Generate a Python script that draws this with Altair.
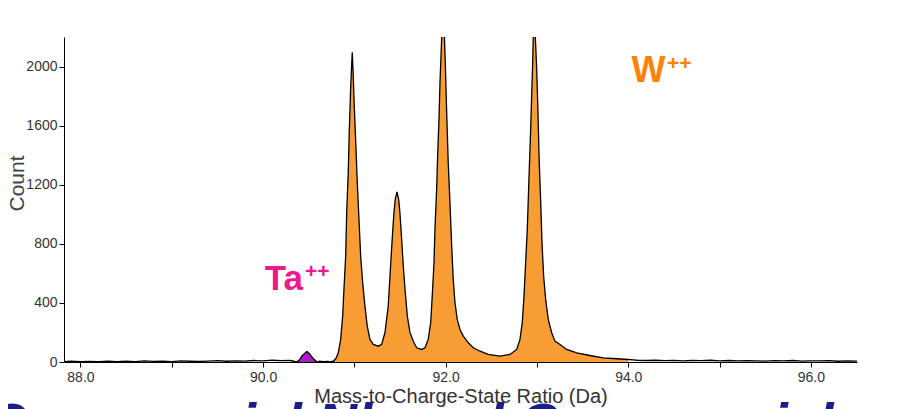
import altair as alt
import pandas as pd

# ---------------- data ----------------
# W++ isotope peaks (orange fill)
w_mz = [90.74, 90.769, 90.80, 90.824, 90.850, 90.872, 90.886, 90.905, 90.916, 90.933,
        90.944, 90.959, 90.970, 90.977, 90.988, 90.999, 91.018, 91.032, 91.054, 91.069,
        91.091, 91.116, 91.141, 91.171, 91.207, 91.262, 91.299, 91.335, 91.371, 91.401,
        91.419, 91.434, 91.448, 91.467, 91.485, 91.499, 91.518, 91.536, 91.558, 91.580,
        91.609, 91.645, 91.682, 91.737, 91.773, 91.809, 91.836, 91.853, 91.872, 91.883,
        91.901, 91.912, 91.927, 91.938, 91.949, 91.960, 91.970, 91.981, 91.996, 92.011,
        92.028, 92.047, 92.066, 92.083, 92.102, 92.127, 92.157, 92.193, 92.248, 92.302,
        92.376, 92.467, 92.594, 92.704, 92.778, 92.814, 92.839, 92.858, 92.876, 92.894,
        92.912, 92.931, 92.942, 92.953, 92.959, 92.973, 92.986, 92.997, 93.011, 93.025,
        93.041, 93.055, 93.073, 93.095, 93.124, 93.161, 93.197, 93.252, 93.325, 93.435,
        93.580, 93.726, 93.873, 94.000]
w_count = [3, 5, 25, 62, 153, 311, 492, 717, 1011, 1283,
           1554, 1847, 2006, 2096, 1938, 1734, 1441, 1215, 921, 717,
           537, 378, 243, 153, 119, 107, 119, 198, 378, 695,
           876, 1011, 1102, 1151, 1102, 1011, 831, 650, 469, 311,
           200, 141, 96, 85, 96, 153, 266, 446, 672, 898,
           1169, 1395, 1644, 1893, 2073, 2250, 2400, 2300, 2028, 1690,
           1350, 1079, 785, 559, 401, 288, 220, 175, 130, 96,
           73, 51, 40, 51, 85, 153, 266, 446, 672, 898,
           1237, 1576, 1802, 2028, 2186, 2330, 2141, 1983, 1690, 1350,
           1079, 808, 582, 424, 288, 198, 141, 119, 85, 62,
           44, 28, 22, 17]

# Ta++ peak (purple fill)
ta_mz = [90.368, 90.400, 90.423, 90.450, 90.478, 90.495, 90.514, 90.550, 90.594]
ta_count = [0, 15, 40, 55, 71, 65, 51, 22, 0]

# background noise (black outline only)
bg_mz = [87.82, 87.90, 88.00, 88.10, 88.20, 88.30, 88.40, 88.50, 88.60, 88.70,
         88.80, 88.90, 89.00, 89.10, 89.20, 89.30, 89.40, 89.50, 89.60, 89.70,
         89.80, 89.90, 90.00, 90.10, 90.20, 90.30, 90.62, 90.66, 90.70,
         94.05, 94.10, 94.20, 94.30, 94.40, 94.50, 94.60, 94.70, 94.80, 94.90,
         95.00, 95.10, 95.20, 95.30, 95.40, 95.50, 95.60, 95.70, 95.80, 95.90,
         96.00, 96.10, 96.20, 96.30, 96.40, 96.505]
bg_count = [2, 5, 3, 4, 2, 6, 3, 5, 2, 8,
            4, 6, 3, 7, 5, 4, 6, 9, 5, 8,
            6, 10, 7, 12, 9, 10, 5, 3, 4,
            15, 12, 10, 12, 9, 11, 8, 10, 9, 12,
            8, 10, 7, 9, 8, 6, 9, 7, 10, 6,
            8, 7, 9, 5, 8, 6]

x_ticks = [88, 89, 90, 91, 92, 93, 94, 95, 96]
y_ticks = [0, 200, 400, 600, 800, 1000, 1200, 1400, 1600, 1800, 2000, 2200]

x_title = "Mass-to-Charge-State Ratio (Da)"
y_title = "Count"
bottom_text = "Commercial Nb and Commercial"

labels_txt = ["Ta", "++", "W", "++"]
labels_mz = [90.229, 90.459, 94.221, 94.424]
labels_cnt = [485, 610, 1893, 2017]

# ---------------- frames ----------------
df_w = pd.DataFrame({"mz": w_mz, "count": w_count})
df_ta = pd.DataFrame({"mz": ta_mz, "count": ta_count})
df_bg = pd.DataFrame({"mz": bg_mz, "count": bg_count})
df_all = pd.concat([df_w, df_ta, df_bg]).sort_values("mz").reset_index(drop=True)

FONT = "Liberation Sans"
xscale = alt.Scale(domain=[87.82, 96.505], nice=False, zero=False)
yscale = alt.Scale(domain=[0, 2200], nice=False)

x_axis = alt.Axis(
    title=x_title, values=x_ticks,
    labelExpr="datum.value % 2 == 0 ? format(datum.value, '.1f') : ''",
    grid=False, tickSize=5, domainColor="black", tickColor="black",
    labelFont=FONT, labelFontSize=14, labelColor="#333", labelPadding=3,
    labelOverlap=False, labelFlush=False,
    titleFont=FONT, titleFontSize=20, titleFontWeight="normal", titleColor="#333",
    titlePadding=2, zindex=1,
)
y_axis = alt.Axis(
    title=y_title, values=y_ticks,
    labelExpr="datum.value % 400 == 0 ? format(datum.value, 'd') : ''",
    grid=False, tickSize=5, domainColor="black", tickColor="black",
    labelFont=FONT, labelFontSize=14, labelColor="#333", labelPadding=2,
    labelOverlap=False, labelFlush=False,
    titleFont=FONT, titleFontSize=21, titleFontWeight="normal", titleColor="#444",
    titleX=-37, titleY=146, zindex=1,
)

area_w = alt.Chart(df_w).mark_area(color="#F79D34", clip=True).encode(
    x=alt.X("mz:Q", scale=xscale, axis=x_axis),
    y=alt.Y("count:Q", scale=yscale, axis=y_axis),
)
area_ta = alt.Chart(df_ta).mark_area(color="#A51EC2", clip=True).encode(
    x=alt.X("mz:Q", scale=xscale),
    y=alt.Y("count:Q", scale=yscale),
)
outline = alt.Chart(df_all).mark_line(color="black", strokeWidth=1.3, clip=True).encode(
    x=alt.X("mz:Q", scale=xscale),
    y=alt.Y("count:Q", scale=yscale),
)

df_lab = pd.DataFrame({"t": labels_txt, "mz": labels_mz, "count": labels_cnt})
ta_main = alt.Chart(df_lab.iloc[[0]]).mark_text(
    font=FONT, fontSize=35, fontWeight="bold", color="#F0198C",
    align="center", baseline="alphabetic").encode(
    x=alt.X("mz:Q", scale=xscale), y=alt.Y("count:Q", scale=yscale), text="t:N")
ta_sup = alt.Chart(df_lab.iloc[[1]]).mark_text(
    font=FONT, fontSize=21, fontWeight="bold", color="#F0198C",
    align="left", baseline="middle").encode(
    x=alt.X("mz:Q", scale=xscale), y=alt.Y("count:Q", scale=yscale), text="t:N")
w_main = alt.Chart(df_lab.iloc[[2]]).mark_text(
    font=FONT, fontSize=36, fontWeight="bold", color="#FF8205",
    align="center", baseline="alphabetic").encode(
    x=alt.X("mz:Q", scale=xscale), y=alt.Y("count:Q", scale=yscale), text="t:N")
w_sup = alt.Chart(df_lab.iloc[[3]]).mark_text(
    font=FONT, fontSize=21, fontWeight="bold", color="#FF8205",
    align="left", baseline="middle").encode(
    x=alt.X("mz:Q", scale=xscale), y=alt.Y("count:Q", scale=yscale), text="t:N")

bottom = alt.Chart(pd.DataFrame({"t": [bottom_text]})).mark_text(
    font=FONT, fontSize=55, fontWeight="bold", fontStyle="italic", color="#1C1C8C",
    align="left", baseline="alphabetic").encode(
    x=alt.value(-77), y=alt.value(405), text="t:N")

chart = alt.layer(bottom, area_w, area_ta, outline, ta_main, ta_sup, w_main, w_sup).properties(
    width=793, height=325,
    padding={"left": 56, "top": 29, "right": 44, "bottom": 60},
    autosize=alt.AutoSizeParams(type="none"),
    background="white",
).configure_view(stroke=None)

chart.save("out.html", embed_options={"renderer": "svg", "actions": False})
